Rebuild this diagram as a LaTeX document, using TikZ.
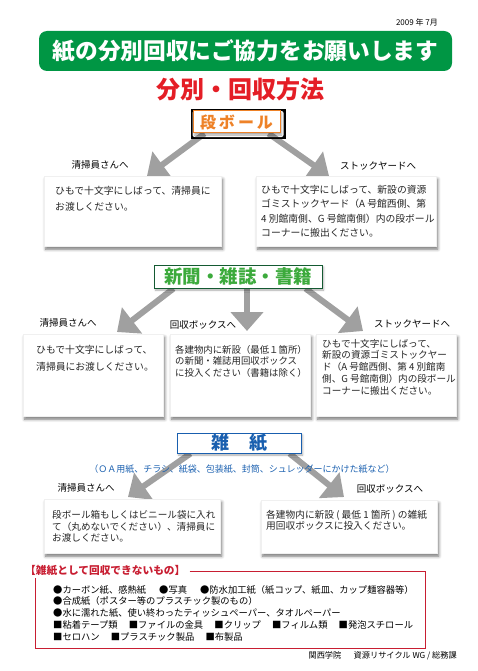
\documentclass[tikz,border=0pt]{standalone}
\usepackage{fontspec}
\setmainfont{Noto Sans CJK JP}
\usetikzlibrary{positioning,arrows.meta,shadows.blur,backgrounds}

\definecolor{titlegreen}{RGB}{0,150,68}
\definecolor{titlered}{RGB}{228,30,38}
\definecolor{danorange}{RGB}{238,130,40}
\definecolor{shinborder}{RGB}{20,90,50}
\definecolor{shintext}{RGB}{60,170,60}
\definecolor{zatblue}{RGB}{25,95,175}
\definecolor{arrowgray}{RGB}{160,160,160}
\definecolor{framered}{RGB}{200,30,50}

\begin{document}
\begin{tikzpicture}[x=1pt,y=-1pt,
	box/.style={draw=gray!12, fill=white, inner sep=0pt, anchor=north west,
		blur shadow={shadow xshift=1.5pt, shadow yshift=-3pt, shadow blur radius=3pt, shadow opacity=55}},
	boxtext/.style={inner sep=0pt, align=left, text=black!85},
	dest/.style={inner sep=0pt, font=\fontsize{9.5}{10}\selectfont},
	head/.style={fill=white, inner sep=0pt, line width=1pt,
		blur shadow={shadow xshift=1.5pt, shadow yshift=-2pt, shadow blur radius=2pt, shadow opacity=35}},
	arr/.style={draw=arrowgray, line width=6pt, -{Triangle[length=19pt,width=32pt]}}]
	\begin{scope}[on background layer]
		\fill[white] (0,0) rectangle (477,671);
	\end{scope}
	\useasboundingbox (0,0) rectangle (477,671);

	% title
	\node[anchor=east, inner sep=0pt, font=\fontsize{8}{8}\selectfont] (date) at (438,22) {2009 年 7月};
	\node[fill=titlegreen, rounded corners=8pt, minimum width=413pt, minimum height=40pt, text=white,
		font=\fontsize{22.7}{23}\selectfont\bfseries] (banner) at (245.5,51) {紙の分別回収にご協力をお願いします};
	\node[text=titlered, font=\fontsize{24}{24}\selectfont\bfseries] (sub) at (240,89) {分別・回収方法};

	% dan boru
	\node[head, draw=danorange, text=danorange, minimum width=87pt, minimum height=22pt,
		font=\fontsize{16}{16}\selectfont\bfseries] (dan) at (236.5,122) {段\hspace{3pt}ボ\hspace{3pt}ー\hspace{3pt}ル};
	\node[dest] (d1) at (100,165) {清掃員さんへ};
	\node[dest] (d2) at (378,166) {ストックヤードへ};
	\node[box, minimum width=177pt, minimum height=70pt] (b1) at (44,176) {};
	\node[boxtext, font=\fontsize{9.8}{16.5}\selectfont, below right=10pt and 11pt of b1.north west] (t1)
		{ひもで十文字にしばって、清掃員に\\お渡しください。};
	\node[box, minimum width=180pt, minimum height=70pt] (b2) at (256,176) {};
	\node[boxtext, font=\fontsize{9.8}{14.5}\selectfont, below right=9pt and 5pt of b2.north west] (t2)
		{ひもで十文字にしばって、新設の資源\\ゴミストックヤード（A 号館西側、第\\4 別館南側、G 号館南側）内の段ボール\\コーナーに搬出ください。};
	\coordinate (e1) at (147,176);
	\coordinate (e2) at (329,176);

	% shinbun
	\node[head, draw=shinborder, text=shintext, minimum width=168pt, minimum height=23pt,
		font=\fontsize{18.5}{19}\selectfont\bfseries] (shin) at (238,276.5) {新聞・雑誌・書籍};
	\node[dest] (d3) at (68,323) {清掃員さんへ};
	\node[dest] (d4) at (203,325) {回収ボックスへ};
	\node[dest] (d5) at (412,324) {ストックヤードへ};
	\node[box, minimum width=140pt, minimum height=82pt] (b3) at (23,334) {};
	\node[boxtext, font=\fontsize{9.8}{17}\selectfont, below right=11pt and 13pt of b3.north west] (t3)
		{ひもで十文字にしばって、\\清掃員にお渡しください。};
	\node[box, minimum width=140pt, minimum height=82pt] (b4) at (170,334) {};
	\node[boxtext, font=\fontsize{9.4}{11.5}\selectfont, below right=11pt and 5pt of b4.north west] (t4)
		{各建物内に新設（最低１箇所）\\の新聞・雑誌用回収ボックス\\に投入ください（書籍は除く）};
	\node[box, minimum width=140pt, minimum height=82pt] (b5) at (316,334) {};
	\node[boxtext, font=\fontsize{9.6}{11.7}\selectfont, below right=5pt and 6pt of b5.north west] (t5)
		{ひもで十文字にしばって、\\新設の資源ゴミストックヤー\\ド（A 号館西側、第 4 別館南\\側、G 号館南側）内の段ボール\\コーナーに搬出ください。};
	\coordinate (e3) at (117,332);
	\coordinate (e4) at (247,331);
	\coordinate (e5) at (363,331);

	% zasshi
	\node[head, draw=zatblue, text=zatblue, minimum width=124pt, minimum height=20pt,
		font=\fontsize{18}{18}\selectfont\bfseries] (zat) at (239,443) {雑\hspace{20pt}紙};
	\node[text=zatblue, inner sep=0pt, font=\fontsize{9}{9}\selectfont] (note) at (242,469)
		{（ＯＡ用紙、チラシ、紙袋、包装紙、封筒、シュレッダーにかけた紙など）};
	\node[dest] (d6) at (86,488) {清掃員さんへ};
	\node[dest] (d7) at (390,489) {回収ボックスへ};
	\node[box, minimum width=176pt, minimum height=54pt] (b6) at (44,499) {};
	\node[boxtext, font=\fontsize{9.6}{11.7}\selectfont, below right=11pt and 8pt of b6.north west] (t6)
		{段ボール箱もしくはビニール袋に入れ\\て（丸めないでください）、清掃員に\\お渡しください。};
	\node[box, minimum width=176pt, minimum height=53pt] (b7) at (261,500) {};
	\node[boxtext, font=\fontsize{9.7}{11.2}\selectfont, below right=10pt and 5pt of b7.north west] (t7)
		{各建物内に新設 ( 最低 1 箇所 ) の雑紙\\用回収ボックスに投入ください。};
	\coordinate (e6) at (128,497);
	\coordinate (e7) at (344,497);

	% arrows
	\begin{scope}[on background layer]
		\draw[arr] ([xshift=12pt]dan.south west) -- (e1);
		\draw[arr] ([xshift=-12pt]dan.south east) -- (e2);
		\draw[arr] ([xshift=20pt]shin.south west) -- (e3);
		\draw[arr] ([xshift=9pt]shin.south) -- (e4);
		\draw[arr] ([xshift=-17pt]shin.south east) -- (e5);
		\draw[arr] ([xshift=14pt]zat.south west) -- (e6);
		\draw[arr] ([xshift=-12pt]zat.south east) -- (e7);
	\end{scope}

	% not collected
	\node[anchor=west, inner sep=0pt, text=framered, font=\fontsize{10.7}{11}\selectfont\bfseries] (ng) at (25,571)
		{【雑紙として回収できないもの】};
	\draw[framered, line width=0.8pt] ([xshift=4pt]ng.east) -- (425,571) -- (425,648) -- (35,648) -- (35,578);
	\node[anchor=north west, inner sep=0pt, align=left, font=\fontsize{9.3}{11.8}\selectfont] (items) at (53,585)
		{●カーボン紙、感熱紙\hspace{1.4em}●写真\hspace{1.4em}●防水加工紙（紙コップ、紙皿、カップ麺容器等）\\
		●合成紙（ポスター等のプラスチック製のもの）\\
		●水に濡れた紙、使い終わったティッシュペーパー、タオルペーパー\\
		■粘着テープ類\hspace{1.2em}■ファイルの金具\hspace{1.2em}■クリップ\hspace{1.2em}■フィルム類\hspace{1.2em}■発泡スチロール\\
		■セロハン\hspace{1.2em}■プラスチック製品\hspace{1.2em}■布製品};
	\node[anchor=east, inner sep=0pt, font=\fontsize{8.2}{9}\selectfont] (foot) at (457,656)
		{関西学院\hspace{1.5em}資源リサイクル WG / 総務課};
\end{tikzpicture}
\end{document}
